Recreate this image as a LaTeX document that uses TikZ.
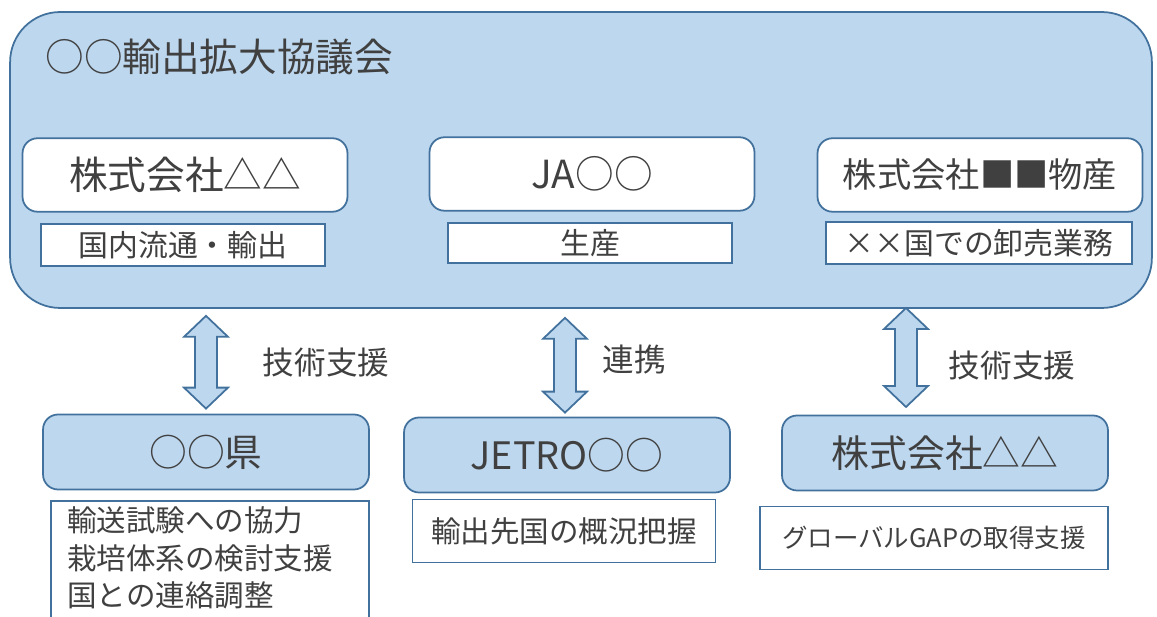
\documentclass[tikz,border=0pt]{standalone}
\usepackage{fontspec}
\setmainfont{Noto Sans CJK JP}
\usepackage{tikz}
\usetikzlibrary{calc}
\definecolor{boxblue}{HTML}{BDD7EE}
\definecolor{edgeblue}{HTML}{41719C}
\definecolor{txtgray}{HTML}{404040}
\tikzstyle{council} =
[rectangle, rounded corners=1cm, minimum width=22.84cm, minimum height=5.92cm,
draw=edgeblue, fill=boxblue, line width=1pt]
\tikzstyle{member} =
[rectangle, rounded corners=0.3cm, minimum width=6.5cm, minimum height=1.47cm,
text centered, draw=edgeblue, fill=white, line width=1pt, text=txtgray,
font=\fontsize{22}{26}\selectfont]
\tikzstyle{role} =
[rectangle, minimum height=0.84cm, text centered, draw=edgeblue, fill=white,
line width=1pt, text=txtgray, font=\fontsize{17}{20}\selectfont]
\tikzstyle{partner} =
[rectangle, rounded corners=0.3cm, minimum width=6.52cm, minimum height=1.5cm,
text centered, draw=edgeblue, fill=boxblue, line width=1pt, text=txtgray,
font=\fontsize{21.5}{25}\selectfont]
\tikzstyle{task} =
[rectangle, minimum height=1.26cm, text centered, draw=edgeblue, fill=white,
line width=1pt, text=txtgray, font=\fontsize{16.8}{21.3}\selectfont]
\tikzstyle{relation} = [text=txtgray, font=\fontsize{18}{21}\selectfont]
\tikzstyle{blockarr} = [draw=edgeblue, fill=boxblue, line width=1pt]
% fat two-headed arrow from #1 (top) to #2 (bottom)
\newcommand{\blockarrow}[2]{%
  \path [blockarr] (#1) -- ++(22,21) -- ++(-11,0) -- ($(#2)+(11,-21)$)
    -- ++(11,0) -- (#2) -- ++(-22,-21) -- ++(11,0) -- ($(#1)+(-11,21)$)
    -- ++(-11,0) -- cycle;}

\begin{document}
\begin{tikzpicture}[x=0.02cm, y=-0.02cm]
  \useasboundingbox (0,0) rectangle (1157,617);
  \clip (0,0) rectangle (1157,617);
  % council
  \node [council] (council) at (581,160) {};
  \node [anchor=west, inner sep=0, text=txtgray,
   font=\fontsize{22}{26}\selectfont] (title) at (45,57) {○○輸出拡大協議会};
  % member nodes
  \node [member] (kaisha) at (185,175) {株式会社△△};
  \node [member] (ja) at (592,174) {JA○○};
  \node [member, font=\fontsize{19.5}{23}\selectfont] (bussan) at (980,175)
   {株式会社■■物産};
  \node [role, minimum width=5.68cm] (ryutsu) at (183,245) {国内流通・輸出};
  \node [role, minimum width=5.68cm, minimum height=0.8cm] (seisan) at (590,243) {生産};
  \node [role, minimum width=6.12cm] (oroshi) at (979,243) {××国での卸売業務};
  %
  % partner nodes
  \node [partner] (ken) at (206,452) {○○県};
  \node [partner] (jetro) at (567,455) {JETRO○○};
  \node [partner] (kaishaB) at (945,453) {株式会社△△};
  \node [task, anchor=north west, align=left, text width=5.7cm, inner xsep=0.33cm,
   inner ysep=0.12cm] (kenTask) at (50,500)
   {輸送試験への協力\\栽培体系の検討支援\\国との連絡調整\rule[-0.5cm]{0pt}{0.1pt}};
  \node [task, minimum width=6.06cm] (jetroTask) at (564,531) {輸出先国の概況把握};
  \node [task, minimum width=6.96cm, font=\fontsize{14.5}{17}\selectfont]
   (kaishaTask) at (934,538) {グローバルGAPの取得支援};
  %
  % relations
  \coordinate (kenTop) at ($(ken.north |- council.south)+(0,7)$);
  \coordinate (kenBot) at ($(ken.north)+(0,-5)$);
  \coordinate (jetroTop) at ($(jetro.north |- council.south)+(-2,9)$);
  \coordinate (jetroBot) at ($(jetro.north)+(-2,-4)$);
  \coordinate (kaishaTop) at (906,308);
  \coordinate (kaishaBot) at (906,407);
  \blockarrow{kenTop}{kenBot}
  \blockarrow{jetroTop}{jetroBot}
  \blockarrow{kaishaTop}{kaishaBot}
  \node [relation] (shienA) at (326,363) {技術支援};
  \node [relation] (renkei) at (634,360) {連携};
  \node [relation] (shienB) at (1012,366) {技術支援};
\end{tikzpicture}
\end{document}
